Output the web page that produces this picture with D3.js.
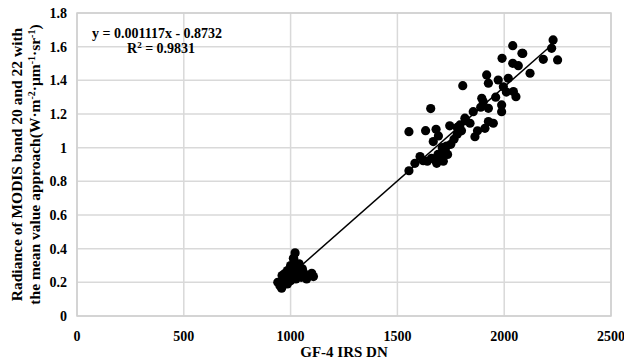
<!DOCTYPE html>
<html>
<head>
<meta charset="utf-8">
<script src="https://cdn.jsdelivr.net/npm/d3@7"></script>
<style>
  body { margin: 0; background: #fff; }
  svg text { font-family: "Liberation Serif", "Times New Roman", serif; font-weight: bold; fill: #000; }
</style>
</head>
<body>
<svg id="chart" width="624" height="364"></svg>
<script>
// GF-4 IRS DN vs MODIS radiance
const lowDN = [940, 950, 958, 965, 970, 975, 985, 990, 995, 1000, 1005, 1008, 1012, 1015, 1021, 1018, 1025, 1030, 1035, 1040, 1045, 1050, 1055, 1060, 1067, 1075, 1099, 1107, 1000, 985, 960, 1044, 1013];
const lowRad = [0.20, 0.18, 0.165, 0.22, 0.25, 0.21, 0.19, 0.23, 0.26, 0.21, 0.28, 0.24, 0.30, 0.34, 0.375, 0.27, 0.22, 0.29, 0.25, 0.31, 0.27, 0.23, 0.28, 0.26, 0.244, 0.22, 0.254, 0.234, 0.30, 0.27, 0.24, 0.273, 0.343];

const highDN = [1554, 1582, 1606, 1621, 1632, 1656, 1660, 1668, 1681, 1684, 1692, 1700, 1723, 1554, 1640, 1710, 1735, 1750, 1765, 1780, 1793, 1806, 1816, 1840, 1855, 1863, 1875, 1895, 1902, 1910, 1918, 1926, 1926, 1926, 1949, 1972, 1988, 1988, 1990, 1996, 2019, 2040, 2040, 2043, 2055, 2066, 2083, 2087, 2121, 2183, 2222, 2229, 2250, 1780, 1820, 1890, 1960, 2010, 1730, 1745, 1800, 1675, 1690, 1715];
const highRad = [0.863, 0.907, 0.947, 0.923, 1.101, 1.232, 0.937, 1.036, 1.109, 0.907, 1.07, 0.95, 0.986, 1.095, 0.92, 1.0, 0.96, 1.02, 1.05, 1.08, 1.135, 1.368, 1.175, 1.145, 1.214, 1.065, 1.10, 1.293, 1.273, 1.115, 1.432, 1.383, 1.234, 1.155, 1.145, 1.402, 1.254, 1.214, 1.531, 1.362, 1.412, 1.606, 1.501, 1.333, 1.303, 1.487, 1.561, 1.56, 1.442, 1.525, 1.59, 1.64, 1.521, 1.12, 1.16, 1.24, 1.30, 1.33, 1.01, 1.13, 1.10, 0.93, 0.96, 0.92];

const xTicks = [0, 500, 1000, 1500, 2000, 2500];
const yTicks = [0, 0.2, 0.4, 0.6, 0.8, 1, 1.2, 1.4, 1.6, 1.8];
const slope = 0.001117, intercept = -0.8732;
const fitRange = [1020, 2240];

const points = lowDN.map((d, i) => ({ x: d, y: lowRad[i] }))
  .concat(highDN.map((d, i) => ({ x: d, y: highRad[i] })));

const margin = { top: 13, right: 13, bottom: 48, left: 77 };
const width = 624, height = 364;

const svg = d3.select("#chart");

const x = d3.scaleLinear().domain([0, 2500]).range([margin.left, width - margin.right]);
const y = d3.scaleLinear().domain([0, 1.8]).range([height - margin.bottom, margin.top]);

// Grid lines
svg.append("g").selectAll("line.v")
  .data(xTicks)
  .enter()
  .append("line")
  .attr("x1", (d) => x(d)).attr("x2", (d) => x(d))
  .attr("y1", y(0)).attr("y2", y(1.8))
  .attr("stroke", "#d9d9d9")
  .attr("stroke-width", 1.5);

svg.append("g").selectAll("line.h")
  .data(yTicks)
  .enter()
  .append("line")
  .attr("x1", x(0)).attr("x2", x(2500))
  .attr("y1", (d) => y(d)).attr("y2", (d) => y(d))
  .attr("stroke", "#d9d9d9")
  .attr("stroke-width", 1.5);

// Plot border
svg.append("rect")
  .attr("x", x(0)).attr("y", y(1.8))
  .attr("width", x(2500) - x(0)).attr("height", y(0) - y(1.8))
  .attr("fill", "none")
  .attr("stroke", "#cfcfcf")
  .attr("stroke-width", 1.5);

// Tick labels
svg.append("g").selectAll("text")
  .data(xTicks)
  .enter()
  .append("text")
  .attr("x", (d) => x(d))
  .attr("y", y(0) + 25)
  .attr("text-anchor", "middle")
  .attr("font-size", "14px")
  .text((d) => d);

svg.append("g").selectAll("text")
  .data(yTicks)
  .enter()
  .append("text")
  .attr("x", x(0) - 10)
  .attr("y", (d) => y(d))
  .attr("dy", "0.35em")
  .attr("text-anchor", "end")
  .attr("font-size", "14px")
  .text((d) => d);

// Points
svg.append("g").selectAll("circle")
  .data(points)
  .enter()
  .append("circle")
  .attr("cx", (d) => x(d.x))
  .attr("cy", (d) => y(d.y))
  .attr("r", 4.6)
  .attr("fill", "#000");

// Fitted line
svg.append("line")
  .attr("x1", x(fitRange[0])).attr("y1", y(slope * fitRange[0] + intercept))
  .attr("x2", x(fitRange[1])).attr("y2", y(slope * fitRange[1] + intercept))
  .attr("stroke", "#000")
  .attr("stroke-width", 1.5);

// Equation
svg.append("text")
  .attr("x", 92).attr("y", 38)
  .attr("font-size", "14px")
  .text("y = 0.001117x - 0.8732");

const r2 = svg.append("text")
  .attr("x", 127).attr("y", 53)
  .attr("font-size", "14px");
r2.append("tspan").text("R");
r2.append("tspan").attr("dy", -5).attr("font-size", "9px").text("2");
r2.append("tspan").attr("dy", 5).text(" = 0.9831");

// Axis titles
svg.append("text")
  .attr("x", x(1250))
  .attr("y", 357)
  .attr("text-anchor", "middle")
  .attr("font-size", "15px")
  .text("GF-4 IRS DN");

const yTitle = svg.append("text")
  .attr("transform", `translate(22,${(y(0) + y(1.8)) / 2}) rotate(-90)`)
  .attr("text-anchor", "middle")
  .attr("font-size", "15.5px");
yTitle.append("tspan").attr("x", 0).attr("dy", 0).text("Radiance of MODIS band 20 and 22 with");
const l2 = yTitle.append("tspan").attr("x", 0).attr("dy", 18);
l2.append("tspan").text("the mean value approach(W·m");
l2.append("tspan").attr("dy", -5).attr("font-size", "10px").text("-2");
l2.append("tspan").attr("dy", 5).text("·μm");
l2.append("tspan").attr("dy", -5).attr("font-size", "10px").text("-1");
l2.append("tspan").attr("dy", 5).text("·sr");
l2.append("tspan").attr("dy", -5).attr("font-size", "10px").text("-1");
l2.append("tspan").attr("dy", 5).text(")");
</script>
</body>
</html>
